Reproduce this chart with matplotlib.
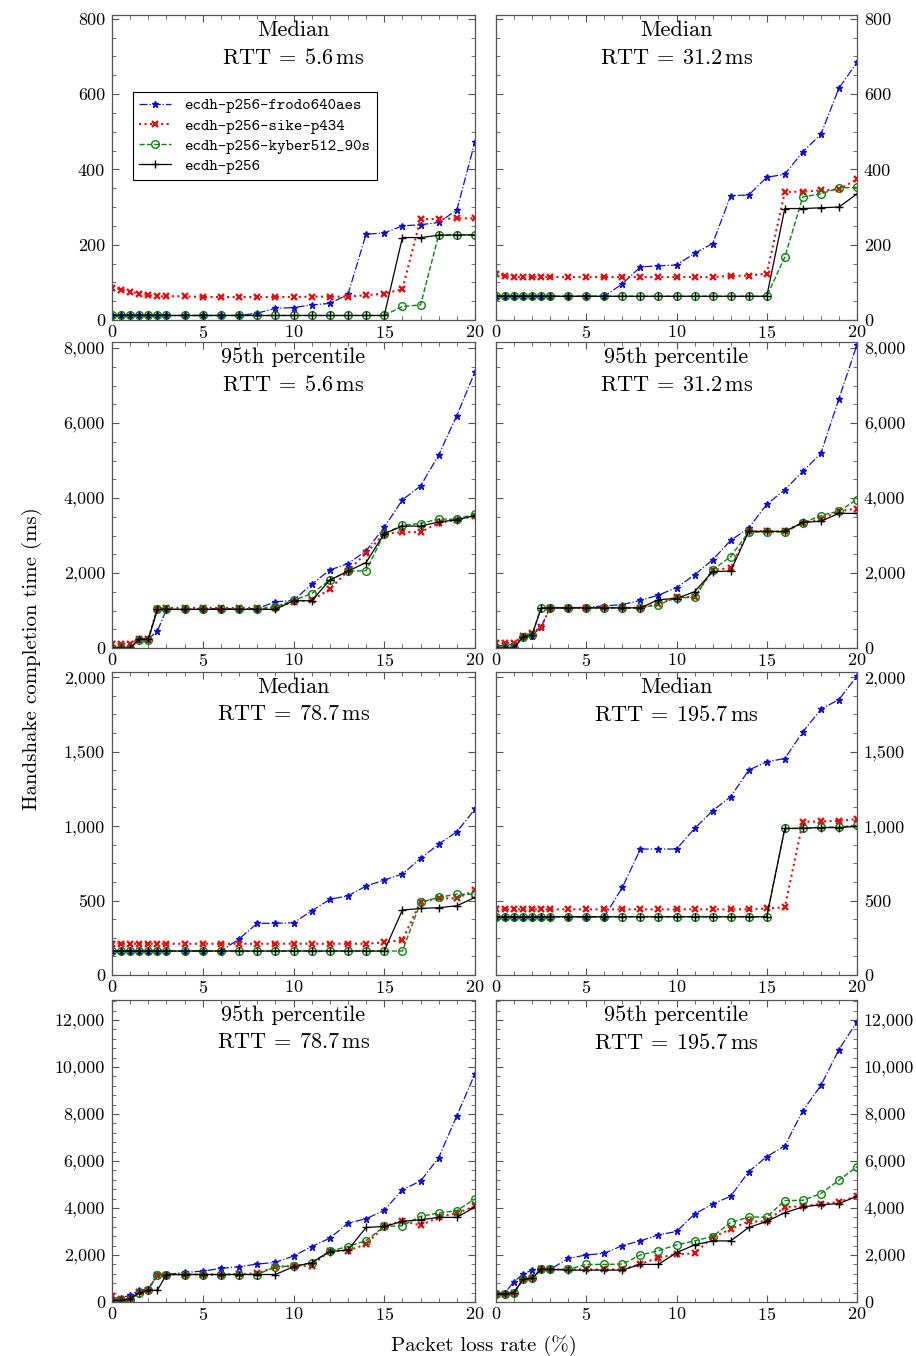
import matplotlib
matplotlib.use("Agg")
import matplotlib.pyplot as plt
from matplotlib.ticker import MultipleLocator, AutoMinorLocator, FuncFormatter

plt.rcParams['font.family'] = 'serif'
plt.rcParams['font.serif'] = ['cmr10', 'DejaVu Serif']
plt.rcParams['mathtext.fontset'] = 'cm'
plt.rcParams['axes.formatter.use_mathtext'] = True

# packet loss rate (%)
loss = [0, 0.5, 1, 1.5, 2, 2.5, 3, 4, 5, 6, 7, 8, 9, 10, 11, 12, 13, 14, 15, 16, 17, 18, 19, 20]

series_names = ['ecdh-p256-frodo640aes', 'ecdh-p256-sike-p434',
                'ecdh-p256-kyber512_90s', 'ecdh-p256']

# median, RTT 5.6 ms
frodo_med_5 = [12] * 11 + [18, 31, 33, 40, 44, 68, 228, 231, 250, 253, 259, 292, 474]
sike_med_5 = [86, 81, 75, 70, 66, 63, 63, 63, 61, 61, 61, 61, 61, 61, 62, 62, 62, 66, 70, 82, 268, 268, 270, 270]
kyber_med_5 = [12] * 19 + [36, 40, 226, 226, 226]
p256_med_5 = [12] * 19 + [219, 219, 225, 226, 226]

# median, RTT 31.2 ms
frodo_med_31 = [63] * 10 + [96, 141, 144, 146, 177, 203, 330, 332, 379, 387, 447, 493, 616, 684]
sike_med_31 = [123, 117] + [114] * 14 + [117, 118, 123, 340, 341, 344, 347, 374]
kyber_med_31 = [63] * 19 + [167, 327, 335, 351, 352]
p256_med_31 = [63] * 19 + [296, 296, 298, 300, 335]

# 95th percentile, RTT 5.6 ms
frodo_p95_5 = [0, 0, 0, 240, 240, 450, 1030, 1030, 1050, 1050, 1050, 1050, 1230, 1270, 1700, 2080, 2250, 2590, 3220, 3950, 4320, 5150, 6200, 7370]
sike_p95_5 = [110, 110, 110, 240, 240, 1050, 1070, 1070, 1070, 1070, 1070, 1070, 1070, 1230, 1270, 1570, 2060, 2530, 3050, 3090, 3090, 3340, 3410, 3530]
kyber_p95_5 = [0, 0, 0, 220, 220, 1030, 1030, 1030, 1030, 1030, 1030, 1030, 1100, 1270, 1450, 1810, 2050, 2060, 3050, 3270, 3320, 3440, 3430, 3580]
p256_p95_5 = [0, 0, 0, 240, 240, 1030, 1030, 1030, 1030, 1030, 1030, 1030, 1030, 1260, 1260, 1810, 2050, 2280, 3050, 3250, 3250, 3360, 3420, 3530]

# 95th percentile, RTT 31.2 ms
frodo_p95_31 = [60, 60, 110, 330, 330, 570, 1070, 1070, 1090, 1120, 1160, 1270, 1410, 1610, 1950, 2350, 2870, 3200, 3830, 4220, 4710, 5190, 6650, 8090]
sike_p95_31 = [130, 130, 130, 330, 390, 570, 1070, 1070, 1070, 1070, 1070, 1070, 1180, 1360, 1360, 2080, 2130, 3110, 3110, 3110, 3340, 3430, 3650, 3720]
kyber_p95_31 = [0, 0, 0, 300, 350, 1070, 1070, 1070, 1070, 1070, 1070, 1070, 1160, 1340, 1350, 2080, 2440, 3090, 3090, 3090, 3340, 3530, 3650, 3960]
p256_p95_31 = [0, 0, 0, 300, 350, 1070, 1070, 1070, 1070, 1070, 1070, 1070, 1290, 1320, 1500, 2040, 2050, 3110, 3110, 3110, 3350, 3380, 3590, 3590]

# median, RTT 78.7 ms
frodo_med_78 = [161] * 10 + [242, 347, 347, 351, 430, 508, 532, 597, 638, 678, 783, 879, 962, 1114]
sike_med_78 = [210] * 18 + [219, 235, 492, 515, 515, 570]
kyber_med_78 = [161] * 20 + [488, 521, 544, 541]
p256_med_78 = [161] * 19 + [436, 447, 452, 465, 521]

# median, RTT 195.7 ms
frodo_med_195 = [391] * 10 + [588, 846, 846, 846, 984, 1103, 1197, 1376, 1432, 1454, 1633, 1785, 1850, 2007]
sike_med_195 = [441] * 18 + [447, 454, 1029, 1031, 1036, 1047]
kyber_med_195 = [391] * 19 + [984, 984, 993, 993, 1007]
p256_med_195 = [391] * 19 + [984, 986, 990, 990, 998]

# 95th percentile, RTT 78.7 ms
frodo_p95_78 = [143, 186, 286, 500, 543, 1170, 1170, 1257, 1314, 1430, 1500, 1614, 1686, 1957, 2357, 2714, 3357, 3543, 3900, 4786, 5143, 6143, 7930, 9714]
sike_p95_78 = [243, 143, 143, 429, 529, 1170, 1170, 1170, 1170, 1170, 1185, 1214, 1500, 1530, 1543, 2186, 2186, 2457, 3214, 3457, 3257, 3614, 3786, 4071]
kyber_p95_78 = [71, 71, 100, 386, 500, 1170, 1170, 1170, 1170, 1170, 1170, 1170, 1500, 1530, 1671, 2171, 2357, 2614, 3214, 3243, 3643, 3786, 3886, 4386]
p256_p95_78 = [71, 71, 143, 386, 500, 500, 1170, 1170, 1170, 1170, 1170, 1170, 1170, 1500, 1671, 2143, 2214, 3171, 3214, 3429, 3500, 3600, 3600, 4043]

# 95th percentile, RTT 195.7 ms
frodo_p95_195 = [357, 400, 871, 1186, 1357, 1386, 1386, 1857, 2000, 2071, 2400, 2600, 2857, 3000, 3743, 4171, 4500, 5543, 6186, 6643, 8143, 9214, 10743, 11929]
sike_p95_195 = [357, 357, 400, 971, 1014, 1386, 1386, 1386, 1386, 1386, 1386, 1614, 1886, 2029, 2071, 2757, 3100, 3429, 3429, 4043, 4071, 4171, 4257, 4500]
kyber_p95_195 = [357, 357, 400, 971, 1014, 1386, 1386, 1386, 1600, 1600, 1614, 2000, 2186, 2429, 2600, 2786, 3386, 3614, 3614, 4314, 4329, 4614, 5186, 5757]
p256_p95_195 = [357, 357, 400, 971, 1014, 1386, 1386, 1357, 1357, 1357, 1357, 1600, 1600, 2100, 2429, 2600, 2600, 3171, 3429, 3800, 4043, 4143, 4186, 4500]

panels = [
    ("Median", "5.6", [frodo_med_5, sike_med_5, kyber_med_5, p256_med_5]),
    ("Median", "31.2", [frodo_med_31, sike_med_31, kyber_med_31, p256_med_31]),
    ("95th percentile", "5.6", [frodo_p95_5, sike_p95_5, kyber_p95_5, p256_p95_5]),
    ("95th percentile", "31.2", [frodo_p95_31, sike_p95_31, kyber_p95_31, p256_p95_31]),
    ("Median", "78.7", [frodo_med_78, sike_med_78, kyber_med_78, p256_med_78]),
    ("Median", "195.7", [frodo_med_195, sike_med_195, kyber_med_195, p256_med_195]),
    ("95th percentile", "78.7", [frodo_p95_78, sike_p95_78, kyber_p95_78, p256_p95_78]),
    ("95th percentile", "195.7", [frodo_p95_195, sike_p95_195, kyber_p95_195, p256_p95_195]),
]

styles = [
    dict(color='#1010c8', linestyle='-.', marker='*', markersize=5, linewidth=0.9),
    dict(color='#e01010', linestyle=':', marker='x', markersize=4, markeredgewidth=1.7, linewidth=1.5),
    dict(color='#108010', linestyle='--', marker='o', markersize=5.5, markerfacecolor='none', linewidth=1.0),
    dict(color='black', linestyle='-', marker='+', markersize=6, linewidth=0.9),
]

# per row: y-limit top, major step, minor subdivisions
row_ylim = [810, 8160, 2035, 12850]
row_major = [200, 2000, 500, 2000]
row_minor = [4, 4, 4, 5]

fig = plt.figure(figsize=(9.16, 13.56), dpi=100)

col_x = [112 / 916, 496 / 916]
col_w = [363 / 916, 361 / 916]
row_top = [15, 342, 672, 1000]
row_bot = [320, 648, 975, 1302]

for i, (kind, rtt, data) in enumerate(panels):
    r, c = divmod(i, 2)
    ax = fig.add_axes([col_x[c], 1 - row_bot[r] / 1356, col_w[c], (row_bot[r] - row_top[r]) / 1356])
    handles = []
    for ys, name, st in zip(data, series_names, styles):
        h, = ax.plot(loss, ys, label=name, **st)
        handles.append(h)
    ax.set_xlim(0, 20)
    ax.set_ylim(0, row_ylim[r])
    ax.xaxis.set_major_locator(MultipleLocator(5))
    ax.xaxis.set_minor_locator(MultipleLocator(1))
    ax.yaxis.set_major_locator(MultipleLocator(row_major[r]))
    ax.yaxis.set_minor_locator(AutoMinorLocator(row_minor[r]))
    ax.yaxis.set_major_formatter(FuncFormatter(lambda v, p: f"{v:,.0f}"))
    ax.tick_params(which='both', direction='in', top=True, bottom=True, left=True, right=True,
                   color='#555555', labelsize=13)
    ax.tick_params(which='major', length=5)
    ax.tick_params(axis='x', pad=3)
    ax.tick_params(axis='y', pad=5)
    ax.tick_params(which='minor', length=3)
    if c == 1:
        ax.tick_params(labelleft=False, labelright=True)
    for s in ax.spines.values():
        s.set_color('#555555')
        s.set_linewidth(0.9)
    ax.text(0.5, 0.951, kind, transform=ax.transAxes, ha='center', va='center', fontsize=16)
    ax.text(0.5, 0.859, r"$\mathrm{RTT}\:=\:" + rtt + r"\,\mathrm{ms}$", transform=ax.transAxes,
            ha='center', va='center', fontsize=16)
    if i == 0:
        leg = ax.legend(handles=handles, loc='upper left', bbox_to_anchor=(0.035, 0.775),
                        prop={'family': 'cmtt10', 'size': 11.6}, fancybox=False,
                        edgecolor='black', framealpha=1, handlelength=2.0,
                        borderpad=0.4, labelspacing=0.3, handletextpad=0.8)
        leg.get_frame().set_linewidth(0.8)

fig.text(0.035, 0.514, "Handshake completion time (ms)", rotation=90, ha='center', va='center', fontsize=15)
fig.text(0.528, 0.008, "Packet loss rate (%)", ha='center', va='center', fontsize=15)

fig.savefig("out.png", dpi=100)
